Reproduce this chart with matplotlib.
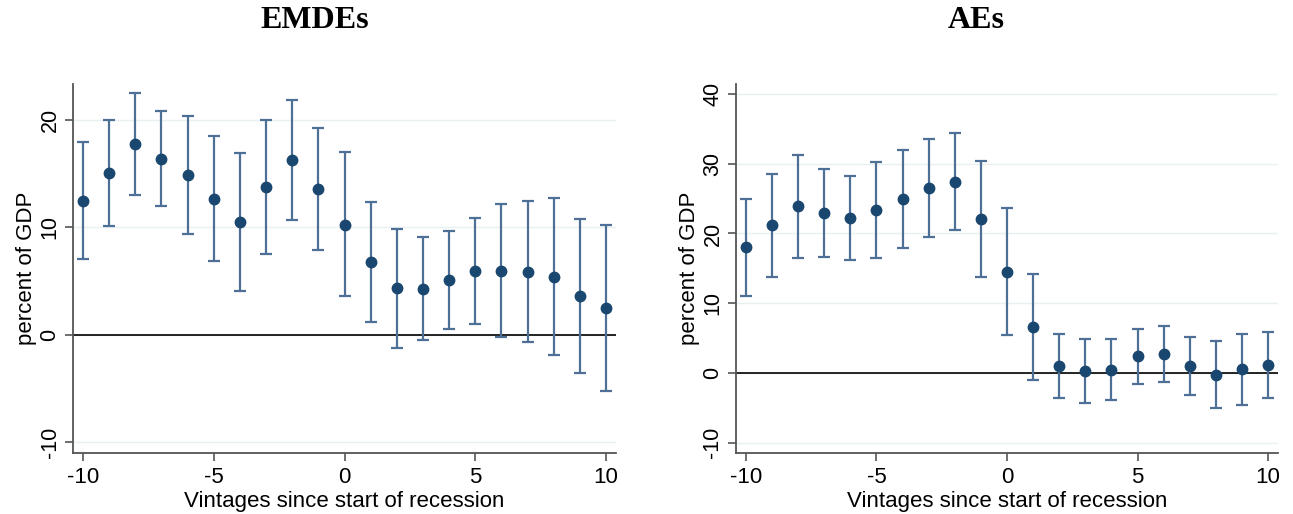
import matplotlib
matplotlib.use("Agg")
import matplotlib.pyplot as plt
import numpy as np

vintages = list(range(-10, 11))

emde_mean = [12.5, 15.05, 17.76, 16.39, 14.84, 12.66, 10.48, 13.72, 16.24, 13.59,
             10.26, 6.75, 4.35, 4.29, 5.10, 5.94, 5.97, 5.88, 5.41, 3.64, 2.55]
emde_upper = [17.95, 20.0, 22.49, 20.81, 20.34, 18.51, 16.89, 20.0, 21.87, 19.28,
              16.98, 12.35, 9.89, 9.08, 9.64, 10.89, 12.16, 12.44, 12.75, 10.76, 10.23]
emde_lower = [7.06, 10.14, 13.03, 11.98, 9.36, 6.84, 4.11, 7.5, 10.67, 7.9,
              3.58, 1.21, -1.18, -0.44, 0.56, 1.03, -0.19, -0.65, -1.90, -3.51, -5.19]

ae_mean = [17.99, 21.15, 23.88, 22.87, 22.25, 23.35, 24.93, 26.51, 27.42, 22.06,
           14.5, 6.56, 1.05, 0.24, 0.48, 2.39, 2.68, 1.0, -0.24, 0.53, 1.2]
ae_upper = [24.98, 28.52, 31.29, 29.23, 28.28, 30.29, 31.96, 33.49, 34.35, 30.43,
            23.68, 14.21, 5.65, 4.88, 4.88, 6.32, 6.70, 5.17, 4.55, 5.65, 5.89]
ae_lower = [11.0, 13.83, 16.46, 16.6, 16.22, 16.46, 17.94, 19.52, 20.53, 13.73,
            5.41, -1.05, -3.59, -4.31, -3.92, -1.53, -1.34, -3.21, -5.07, -4.64, -3.59]

titles = ["EMDEs", "AEs"]
xticks = [-10, -5, 0, 5, 10]
emde_yticks = [-10, 0, 10, 20]
ae_yticks = [-10, 0, 10, 20, 30, 40]
xlabel = "Vintages since start of recession"
ylabel = "percent of GDP"

plt.rcParams['font.family'] = ['Liberation Sans', 'DejaVu Sans']

fig = plt.figure(figsize=(12.93, 5.14), dpi=100)
ax1 = fig.add_axes([0.0565, 0.1187, 0.4199, 0.7179])
ax2 = fig.add_axes([0.5692, 0.1187, 0.4192, 0.7179])

marker_color = "#1a476f"
bar_color = "#4f7096"
grid_color = "#e8f0f2"
spine_color = "#555555"

def draw(ax, mean, lower, upper, yticks, ylim, title, tx):
    mean = np.array(mean)
    lower = np.array(lower)
    upper = np.array(upper)
    ax.set_xlim(-10.38, 10.38)
    ax.set_ylim(*ylim)
    for y in yticks:
        ax.axhline(y, color=grid_color, lw=1.0, zorder=0)
    ax.axhline(0, color="black", lw=1.2, zorder=1)
    ax.errorbar(vintages, mean, yerr=[mean - lower, upper - mean], fmt='none',
                ecolor=bar_color, elinewidth=1.6, capsize=4.5, capthick=1.6, zorder=2)
    ax.plot(vintages, mean, 'o', color=marker_color, markersize=7.5, zorder=3)
    ax.set_xticks(xticks)
    ax.set_xticklabels([str(v) for v in xticks])
    ax.set_yticks(yticks)
    ax.set_yticklabels([str(v) for v in yticks], rotation=90, va='center')
    ax.tick_params(axis='x', labelsize=16, length=6, width=1.2, color=spine_color, pad=4)
    ax.tick_params(axis='y', labelsize=15.5, length=6, width=1.2, color=spine_color, pad=3)
    for s in ['top', 'right']:
        ax.spines[s].set_visible(False)
    for s in ['left', 'bottom']:
        ax.spines[s].set_color(spine_color)
        ax.spines[s].set_linewidth(1.3)
    ax.set_xlabel(xlabel, fontsize=16, labelpad=2)
    ax.set_ylabel(ylabel, fontsize=16, labelpad=2)
    fig.text(tx, 0.96, title, ha='center', va='center', fontsize=23,
             fontweight='bold', family=['Liberation Serif', 'DejaVu Serif'])

draw(ax1, emde_mean, emde_lower, emde_upper, emde_yticks, (-10.98, 23.35), titles[0], 315 / 1293)
draw(ax2, ae_mean, ae_lower, ae_upper, ae_yticks, (-11.47, 41.43), titles[1], 976 / 1293)

fig.savefig("out.png", dpi=100)
